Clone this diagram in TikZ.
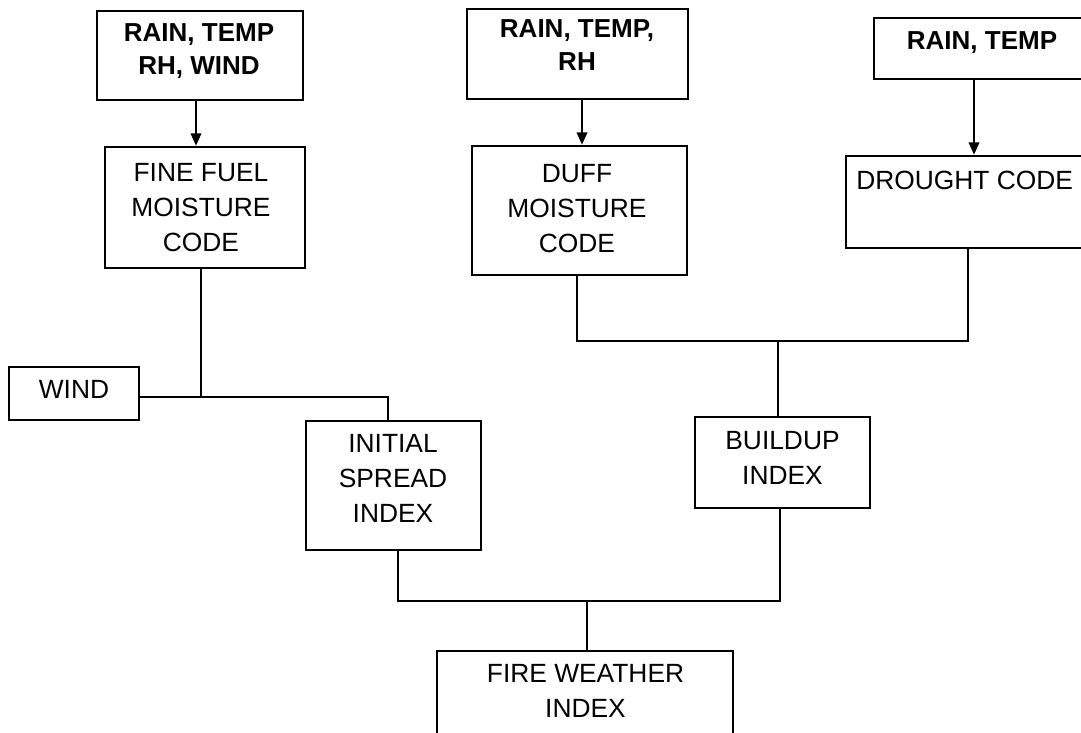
\documentclass[tikz,border=0pt]{standalone}
\usepackage{fontspec}
\setmainfont{Liberation Sans}
\usetikzlibrary{arrows.meta,fit}
\begin{document}
\begin{tikzpicture}[x=0.02cm,y=-0.02cm,
  box/.style={draw, line width=1.5pt, inner sep=0pt},
  txt/.style={inner sep=0pt, anchor=north, align=center, font=\fontsize{15pt}{19.9pt}\selectfont},
  btxt/.style={inner sep=0pt, anchor=north, align=center, font=\bfseries\fontsize{14.8pt}{18.8pt}\selectfont},
  con/.style={line width=1.3pt, line join=miter},
  arr/.style={line width=1.1pt, -{Triangle[length=7pt,width=6pt]}}]
\useasboundingbox (0,0) rectangle (1081,733);
\clip (0,0) rectangle (1081,733);
% boxes
\node[box, fit={(97,11) (303,100)}] (b1) {};
\node[box, fit={(467,9) (688,99)}] (b2) {};
\node[box, fit={(874,18) (1100,79)}] (b3) {};
\node[box, fit={(105,147) (305,268)}] (ffmc) {};
\node[box, fit={(472,146) (687,275)}] (dmc) {};
\node[box, fit={(846,156) (1100,248)}] (dc) {};
\node[box, fit={(9,367) (139,420)}] (wind) {};
\node[box, fit={(306,421) (481,550)}] (isi) {};
\node[box, fit={(695,417) (870,508)}] (bui) {};
\node[box, fit={(437,651) (733,760)}] (fwi) {};
% texts
\node[btxt] (b1t) at (199,23) {RAIN, TEMP\\RH, WIND};
\node[btxt] (b2t) at (577,19.5) {RAIN, TEMP,\\RH};
\node[btxt] (b3t) at (982,31.5) {RAIN, TEMP};
\node[txt] (ffmct) at (201,163.5) {FINE FUEL\\MOISTURE\\CODE};
\node[txt] (dmct) at (577,164.5) {DUFF\\MOISTURE\\CODE};
\node[txt, anchor=north west] (dct) at (856,170.5) {DROUGHT CODE};
\node[txt] (windt) at (74,380.5) {WIND};
\node[txt] (isit) at (393,434.5) {INITIAL\\SPREAD\\INDEX};
\node[txt] (buit) at (782.5,431.5) {BUILDUP\\INDEX};
\node[txt] (fwit) at (585.5,664.5) {FIRE WEATHER\\INDEX};
% arrows
\coordinate (a1) at (196,0);
\coordinate (a2) at (582,0);
\coordinate (a3) at (974,0);
\draw[arr] (b1.south -| a1) -- (ffmc.north -| a1);
\draw[arr] (b2.south -| a2) -- (dmc.north -| a2);
\draw[arr] (b3.south -| a3) -- (dc.north -| a3);
% connectors
\coordinate (j1) at (201,397);
\coordinate (j2) at (388,397);
\draw[con] (ffmc.south -| j1) -- (j1);
\draw[con] (wind.east |- j1) -- (j2) -- (isi.north -| j2);
\coordinate (j3) at (577,341);
\coordinate (j4) at (968,341);
\coordinate (j5) at (778,341);
\draw[con] (dmc.south -| j3) -- (j3) -- (j4) -- (dc.south -| j4);
\draw[con] (j5) -- (bui.north -| j5);
\coordinate (j6) at (398,601);
\coordinate (j7) at (780,601);
\coordinate (j8) at (587,601);
\draw[con] (isi.south -| j6) -- (j6) -- (j7) -- (bui.south -| j7);
\draw[con] (j8) -- (fwi.north -| j8);
\end{tikzpicture}
\end{document}
